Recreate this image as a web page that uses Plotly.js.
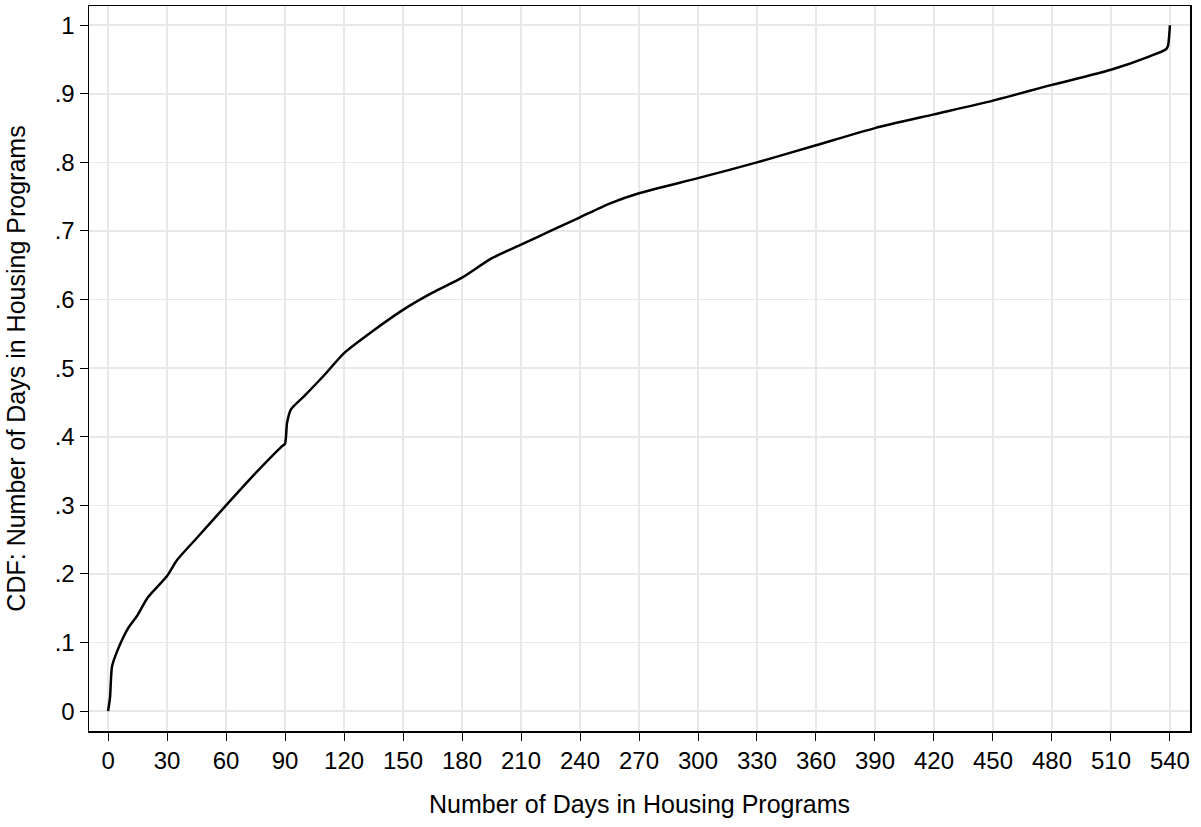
<html><head><script src="https://cdn.plot.ly/plotly-3.0.1.min.js"></script></head>
<body style="margin:0"><div id="chart" style="width:1201px;height:827px"></div>
<script>
const days = [0, 1, 2, 5, 10, 15, 20, 30, 35, 45, 60, 75, 88, 90, 91, 93, 100, 110, 120, 135, 150, 165, 180, 195, 210, 225, 240, 255, 270, 300, 330, 360, 390, 420, 450, 480, 510, 530, 538, 539, 540];
const cdf = [0, 0.02, 0.065, 0.09, 0.12, 0.14, 0.165, 0.197, 0.22, 0.252, 0.3, 0.347, 0.385, 0.39, 0.42, 0.44, 0.46, 0.49, 0.522, 0.555, 0.585, 0.61, 0.632, 0.66, 0.68, 0.70, 0.72, 0.74, 0.755, 0.777, 0.80, 0.825, 0.85, 0.87, 0.89, 0.913, 0.935, 0.955, 0.965, 0.97, 1.0];
const xTicks = [0,30,60,90,120,150,180,210,240,270,300,330,360,390,420,450,480,510,540];
const yTicks = [0,0.1,0.2,0.3,0.4,0.5,0.6,0.7,0.8,0.9,1];
const yLabels = ['0','.1','.2','.3','.4','.5','.6','.7','.8','.9','1'];

const ax = {showline:true, linecolor:'#000', linewidth:1.5, mirror:true, ticks:'outside', ticklen:8, tickcolor:'#000',
  gridcolor:'#e8e8e8', gridwidth:1.5, zeroline:false, tickfont:{size:24, color:'#000'}};
Plotly.newPlot('chart', [{x:days, y:cdf, type:'scatter', mode:'lines', line:{color:'#000', width:2.5, shape:'spline', smoothing:0.6}}], {
  width:1201, height:827, showlegend:false, plot_bgcolor:'#fff', paper_bgcolor:'#fff',
  font:{family:'Liberation Sans, Arial', color:'#000'},
  margin:{l:89, r:11, t:6, b:96},
  xaxis:{...ax, range:[-9.7,550.2], tickvals:xTicks, title:{text:'Number of Days in Housing Programs', font:{size:25}, standoff:22}},
  yaxis:{...ax, range:[-0.029,1.028], tickvals:yTicks, ticktext:yLabels, title:{text:'CDF: Number of Days in Housing Programs', font:{size:25}, standoff:22}}
}, {staticPlot:true});
</script></body></html>
